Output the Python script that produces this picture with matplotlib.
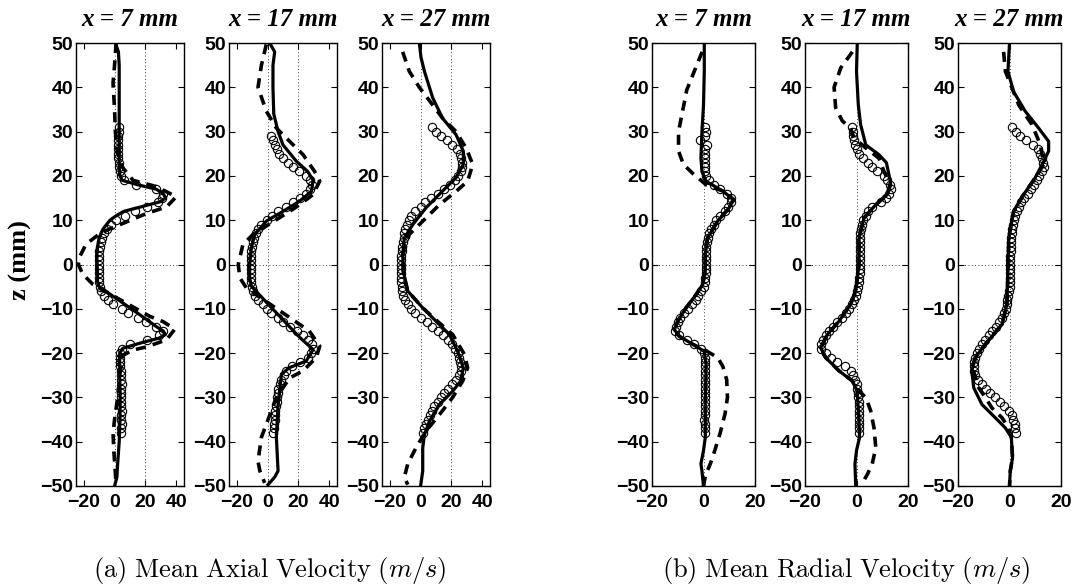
import numpy as np
import matplotlib
matplotlib.use("Agg")
import matplotlib.pyplot as plt

plt.rcParams["mathtext.fontset"] = "cm"

# ---- data, z in mm ----
titles = ["x = 7 mm", "x = 17 mm", "x = 27 mm"]
z_ticks = [-50, -40, -30, -20, -10, 0, 10, 20, 30, 40, 50]
axial_ticks = [-20, 0, 20, 40]
radial_ticks = [-20, 0, 20]

# (a) axial velocity
a1_sol_z = [50, 48, 45, 40, 35, 30, 25, 22, 20, 19, 18, 17, 16, 15, 14.2, 13, 12, 11, 10, 8,
            6, 4, 2, 0, -2, -4, -5, -8, -11, -14, -15, -15.8, -16.6, -17.8, -18.9, -20, -25, -30, -35, -40,
            -45, -48, -50]
a1_sol_u = [0.5, 2.5, 3, 3, 3, 3, 3, 3, 3.5, 5, 15, 27, 31.5, 33, 30, 17, 6, 1, -3, -7.5,
            -10, -11, -11.5, -11.3, -11, -11, -10, 2.5, 15, 27, 31.5, 33, 29, 16, 5.4, 3.3, 3.3, 3.7, 3.5, 3,
            2, 1.5, 0]
a1_dash_z = [50, 45, 41, 35, 30, 25, 22, 19, 17.6, 15.3, 13, 11.5, 9.6, 8, 6.9, 4.6, 1.6, 0, -2.2, -4.5,
             -11.7, -12.9, -14.6, -17, -18.6, -19.3, -20.5, -25, -30, -35, -38, -42, -47, -50]
a1_dash_u = [1, 0, -1, 0, 0.5, 2, 5, 12, 27, 40, 33.7, 20.6, 7.6, -3.3, -9.8, -18.5, -22.8, -23.5, -20.6, -14,
             22.8, 31.5, 39, 33.7, 20.6, 12, 5.4, 3.3, 2, 0, -1, -0.5, 0.5, 1]
a1_exp_z = np.arange(-38, 32)
a1_exp_u = [4, 4, 4.5, 4, 4, 4.5, 4, 4, 4, 4,
            4, 4.5, 4, 4, 4, 3.5, 3.5, 3.5, 3.5, 5,
            10, 21, 29, 31.5, 27, 20.6, 15, 9, 5, -1,
            -4, -7, -8.5, -9.5, -10, -10, -10, -10, -10, -10,
            -10, -10, -9.5, -9, -8, -7, -5, -2, 1, 7,
            13, 21, 28, 31, 31.5, 27, 14, 6, 4, 3.5,
            3, 3, 2.5, 2.5, 2.5, 2.5, 2.5, 2.5, 3, 3]

a2_sol_z = [50, 48, 45, 40, 34, 30, 27, 23.3, 21, 19, 16.5, 14.3, 12, 9.8, 6.8, 3.8, 0, -3, -4.9, -7.5,
            -12.8, -16.5, -19.2, -21.8, -23.3, -24.8, -27.8, -31.6, -39, -46.6, -48, -49.7]
a2_sol_u = [1.4, 4.6, 3.5, 3.5, 4, 6.8, 10, 18.7, 26, 29.5, 28.4, 20.8, 10, -0.8, -8.3, -10.5, -11.6, -11.6, -10.5, -3.5,
            10.8, 21, 29.5, 25, 14, 9, 8, 6.8, 5.7, 6.8, 4.6, 0.3]
a2_dash_z = [49.7, 45, 40, 34.6, 30.8, 27.8, 24.8, 21, 18.8, 15.8, 13.5, 12, 6.8, 4.5, 0, -3, -5.3, -15, -18.4, -21,
             -24, -25.6, -30, -34, -39, -44.4, -46.6, -49.3]
a2_dash_u = [-0.8, -4, -6.2, -0.8, 5.7, 14.3, 23, 30.5, 33.8, 29.5, 20.8, 14.3, -9.4, -16, -19, -18, -13.7, 27, 33.8, 31.6,
             23, 14.3, 5.7, 1.4, -4, -6.2, -5, -1.9]
a2_exp_z = np.arange(-38, 30)
a2_exp_u = [3.5, 4, 4, 4.5, 5, 5, 5.5, 6, 6, 6.5,
            7, 8, 9, 10.5, 12, 16, 21, 26, 28, 29.5,
            28.5, 26.5, 23, 19, 14.5, 10, 6.5, 2.5, -0.5, -3,
            -6, -8, -9.5, -10, -10.5, -10.5, -10.5, -10.5, -10.5, -10.5,
            -10.5, -10.5, -10, -9.5, -8.5, -7.5, -6, -4, -0.5, 3,
            7, 12, 16.5, 21, 25, 27.5, 28.5, 27.5, 25, 20.5,
            16.5, 13, 10, 7.5, 6, 4.5, 3.5, 2]

a3_sol_z = [50, 46.7, 43.6, 37.6, 33, 29.3, 25.6, 22.6, 19.6, 16.6, 12.8, 9, 6, 2.3, -1.5, -6, -9.8, -12.8, -15.8, -19.6,
            -23.3, -26.3, -28.6, -31.6, -35.4, -38.4, -41.4, -46.6, -49.3, -50]
a3_sol_u = [-0.8, 0.3, 2.5, 7.9, 14.3, 23, 27.7, 27.7, 23, 14.3, 3.5, -5.1, -10.5, -11.6, -11.2, -8.3, 1.4, 10, 18.7, 24,
            27.7, 26, 20.8, 12.2, 5.7, 2.5, 1.4, 1.4, 0.3, 0]
a3_dash_z = [48, 43.6, 40, 36, 33, 30, 26.3, 22.6, 18.8, 16.5, 13.5, 10.5, 6.8, 2, -2, -6, -9.8, -13.2, -15.8, -20.3,
             -23.3, -26.3, -30, -33.9, -37.6, -41.4, -45, -48, -49.7]
a3_dash_u = [-11.6, -7.3, -0.8, 7.9, 14.3, 23, 29.5, 33.8, 30.5, 23, 12.2, 3.5, -7.3, -11.6, -11.2, -8.3, 1.4, 12.2, 20.8, 28.4,
             30.5, 27.3, 20.8, 12.2, 3.5, -3, -8.3, -10.5, -8.3]
a3_exp_z = np.arange(-38, 32)
a3_exp_u = [1.5, 2.5, 3.5, 5, 6, 7.5, 9, 11, 13, 15.5,
            18, 20.5, 23, 25, 26, 26, 25.5, 25, 24, 22.5,
            20.5, 17.5, 14.5, 11.5, 7.5, 4, 0, -3.5, -6, -8.3,
            -10, -11.5, -12, -12, -12.5, -12.7, -12.7, -12.7, -12.7, -12.5,
            -12.5, -12, -12, -11.5, -11, -10.5, -10, -9, -7.5, -6,
            -3.5, 0, 3, 7, 11, 15, 19, 22, 24.5, 26,
            27, 27, 26.5, 25.5, 23.5, 20.5, 17, 13, 10, 7.5]

# (b) radial velocity
b1_sol_z = [50, 43.6, 36, 30, 24, 21, 18.8, 16.6, 14.7, 12.8, 9.8, 6, 2.3, -1.5, -4.5, -6.8, -9.8, -12.8, -14.7, -16.2,
            -18, -19.6, -22.6, -31.6, -39, -42, -45, -46.6, -50]
b1_sol_v = [0.3, 0.3, 0, -0.6, -1, -0.6, 1, 7.4, 11.6, 10, 5.5, 1.6, 0.7, 0.7, -0.3, -2.9, -6.8, -10, -11.3, -9.4,
            -4.2, 0.3, 1, 0.7, 0.7, 0, -1, -0.6, 0]
b1_dash_z = [48, 46.9, 39.4, 30, 25.6, 22.6, 20.4, 19, 18, 16.6, 14.7, 12.8, 9.8, 6, 2.3, -1.5, -4.5, -6.8, -9.8, -12.8,
             -14.7, -16.2, -18, -19.3, -21, -23, -26, -30, -33.6, -38, -44, -47.8, -50]
b1_dash_v = [-0.5, -1.3, -6.5, -9.7, -9.7, -7.8, -3.9, -1, 1, 7.4, 11.6, 10, 5.5, 1.6, 0.7, 0.7, -0.3, -2.9, -6.8, -10,
             -11.3, -9.4, -4.2, 0.5, 5.5, 7.5, 9, 9.3, 8.4, 6.5, 3.3, 0.7, 0]
b1_exp_z = np.arange(-38, 32)
b1_exp_v = [0.5, 0.5, 0.5, 0.3, 0.5, 0.5, 0.5, 0.5, 0.5, 0.5,
            0.5, 0.5, 0.5, 0.5, 0.7, 0.7, 0.7, 0.7, 0.3, -1,
            -3.5, -6.5, -9.5, -11, -10.7, -10, -9, -7.5, -6, -4.5,
            -3, -2, -1, 0, 0.5, 0.7, 0.8, 0.8, 1, 1,
            1, 1, 1, 1.2, 1.8, 2.3, 3, 4, 5, 6.5,
            8.5, 9.5, 10.5, 10.8, 9, 6.5, 4, 2, 1, 0.5,
            0.5, 0.5, 0.5, 0.5, 0.5, 1.5, -1.5, 0.5, 0.8, 0.5]

b2_sol_z = [50, 43.6, 36, 31.6, 27, 24.8, 23, 20.3, 18, 15.8, 13.5, 10.5, 6, 0, -6, -9, -12.8, -15.8, -18.8, -21,
            -24, -26.3, -28.6, -35.4, -39, -42, -45, -50]
b2_sol_v = [0.3, 0, 0.7, 1.6, 3.6, 8.7, 11.6, 12.6, 13.3, 12, 7.5, 2.9, 1, 1, -0.3, -2.3, -6.8, -11.3, -13.9, -12,
            -6.8, -1.6, 0.3, 1, 1.2, 0, -0.6, -0.3]
b2_dash_z = [48, 44.4, 40, 35.4, 32.4, 30.8, 28.6, 26.3, 24, 21, 18, 15.8, 13.5, 10.5, 6, 0, -6, -9, -12.8, -15.8,
             -18.8, -21, -24, -26.3, -28.6, -30, -33, -36.9, -41.4, -45, -47.4, -49.3]
b2_dash_v = [-1.6, -6.1, -8.7, -8.1, -5.5, -2.3, -1, 3.6, 8.7, 10.7, 13, 12, 7.5, 2.9, 1, 1, -0.3, -2.3, -6.8, -11.3,
             -13.9, -12, -6.8, -1.6, 1, 3.6, 5.5, 6.8, 7.5, 6.1, 4.2, 2.3]
b2_exp_z = np.arange(-38, 32)
b2_exp_v = [1, 1, 1, 1, 1, 1, 0.8, 0.8, 0.7, 0.5,
            0.3, 0, -0.5, -1.3, -2.3, -4.5, -7.5, -10, -12, -13.9,
            -13.7, -13, -12, -10.5, -9, -7.5, -5.5, -4, -2.8, -1.6,
            -1, -0.3, 0.3, 0.7, 1, 1, 1.2, 1.2, 1.2, 1.2,
            1.2, 1.2, 1.2, 1.2, 1.3, 1.5, 1.6, 2, 2.5, 3.5,
            4.5, 6, 9.5, 11.5, 12.8, 13.3, 13, 12, 10.5, 8,
            6, 4.5, 2.5, 1, 0, -0.5, -1, -1.3, -1.5, -1.6]

b3_sol_z = [50, 43.6, 39, 34.6, 30.8, 27.8, 25.6, 23.3, 19.6, 15.8, 12, 6, -1.5, -9, -13.5, -18, -21, -24, -27.8, -31.6,
            -34.6, -36.9, -39, -43.6, -46.6, -50]
b3_sol_v = [0, -0.6, 1.6, 6.1, 11.3, 15.2, 15.2, 13.3, 10, 5.5, 1.6, -0.3, -0.6, -1, -2.9, -9.4, -13.3, -14.6, -13.9, -10.7,
            -5.5, -1.6, 0.7, 1.2, 0.3, 0]
b3_dash_z = [48, 43.6, 36, 31.6, 27, 22.6, 19.6, 15.8, 12, 6, -1.5, -9, -13.5, -18, -21, -24, -27.8, -30, -32.4, -34.6,
             -36.9, -39, -43.6, -46.6, -50]
b3_dash_v = [-2.3, -1.6, 3.6, 8.7, 12, 13.3, 10, 5.5, 1.6, -0.3, -0.6, -1, -2.9, -9.4, -13.3, -14, -12, -9.4, -6.8, -2.9,
             -0.3, 0.7, 1.2, 0.3, 0]
b3_exp_z = np.arange(-38, 32)
b3_exp_v = [2.5, 2.3, 2, 1.5, 0.8, -0.3, -2, -3.7, -5.5, -7.5,
            -9, -10.5, -12.3, -13.5, -13.9, -13.9, -13.6, -13.3, -12.8, -12,
            -10.7, -9.5, -8, -6.8, -5.4, -4, -2.9, -2, -1.5, -1,
            -0.8, -0.5, -0.3, 0, 0, 0.1, 0.2, 0.2, 0.3, 0.3,
            0.3, 0.4, 0.5, 0.6, 0.7, 0.9, 1.1, 1.4, 1.8, 2.2,
            2.8, 3.5, 4.5, 5.8, 7, 8.3, 9.5, 10.5, 11.5, 12.5,
            13.3, 13, 12.6, 12, 11, 9, 6.5, 4, 2.5, 1]


def draw_panel(ax, sol, dash, exp, xlim, xticks, refs, title):
    for xr in refs:
        ax.axvline(xr, color="black", linestyle=(0, (1, 3)), linewidth=0.6, zorder=1)
    ax.axhline(0, color="black", linestyle=(0, (1, 3)), linewidth=0.6, zorder=1)

    ax.plot(sol[1], sol[0], color="black", linewidth=2.3, zorder=3)
    ax.plot(dash[1], dash[0], color="black", linewidth=2.6, dashes=(2.8, 2.0), zorder=3)
    ax.plot(exp[1], exp[0], linestyle="none", marker="o", markersize=6,
            markerfacecolor="none", markeredgecolor="black", markeredgewidth=0.8, zorder=4)

    ax.set_xlim(*xlim)
    ax.set_ylim(-50, 50)
    ax.set_xticks(xticks)
    ax.set_yticks(z_ticks)
    ax.tick_params(direction="in", top=True, right=True, length=4, width=0.8)
    ax.tick_params(axis="x", pad=6)
    ax.tick_params(axis="y", pad=2)
    for lab in ax.get_xticklabels() + ax.get_yticklabels():
        lab.set_fontfamily("Liberation Sans")
        lab.set_fontweight("bold")
        lab.set_fontsize(14)
    for sp in ax.spines.values():
        sp.set_linewidth(1.0)
    ax.set_title(title, fontfamily="Liberation Serif", fontweight="bold", fontstyle="italic",
                 fontsize=18, pad=12)


fig = plt.figure(figsize=(10.73, 5.84), dpi=100)

bottom, height = 1 - 486 / 584, 443 / 584
axial = [((a1_sol_z, a1_sol_u), (a1_dash_z, a1_dash_u), (a1_exp_z, a1_exp_u)),
         ((a2_sol_z, a2_sol_u), (a2_dash_z, a2_dash_u), (a2_exp_z, a2_exp_u)),
         ((a3_sol_z, a3_sol_u), (a3_dash_z, a3_dash_u), (a3_exp_z, a3_exp_u))]
radial = [((b1_sol_z, b1_sol_v), (b1_dash_z, b1_dash_v), (b1_exp_z, b1_exp_v)),
          ((b2_sol_z, b2_sol_v), (b2_dash_z, b2_dash_v), (b2_exp_z, b2_exp_v)),
          ((b3_sol_z, b3_sol_v), (b3_dash_z, b3_dash_v), (b3_exp_z, b3_exp_v))]

for i, (left, series) in enumerate(zip([76, 229, 382], axial)):
    ax = fig.add_axes([left / 1073, bottom, 108 / 1073, height])
    draw_panel(ax, *series, xlim=(-25, 45), xticks=axial_ticks, refs=[0, 20], title=titles[i])
    if i == 0:
        ax.set_ylabel("z (mm)", fontfamily="Liberation Serif", fontweight="bold", fontsize=19)
        ax.yaxis.set_label_coords(-0.41, 0.51)

for i, (left, series) in enumerate(zip([652, 805, 958], radial)):
    ax = fig.add_axes([left / 1073, bottom, 103 / 1073, height])
    draw_panel(ax, *series, xlim=(-20, 20), xticks=radial_ticks, refs=[0], title=titles[i])

fig.text(270 / 1073, 1 - 570 / 584, r"$\mathrm{(a)\ Mean\ Axial\ Velocity}\ (m/s)$",
         ha="center", va="center", fontsize=19)
fig.text(846 / 1073, 1 - 570 / 584, r"$\mathrm{(b)\ Mean\ Radial\ Velocity}\ (m/s)$",
         ha="center", va="center", fontsize=19)

fig.savefig("out.png", dpi=100)
